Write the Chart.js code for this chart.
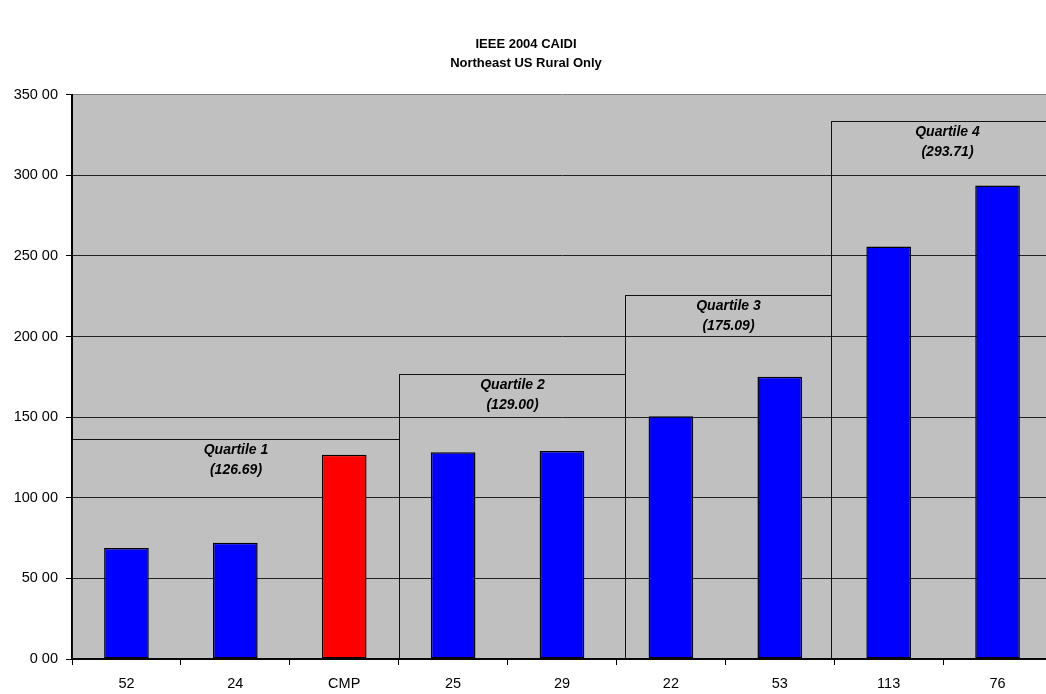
<!DOCTYPE html>
<html>
<head>
<meta charset="utf-8">
<title>IEEE 2004 CAIDI</title>
<script src="https://cdn.jsdelivr.net/npm/chart.js@4.4.1/dist/chart.umd.min.js"></script>
<style>
  html, body { margin: 0; padding: 0; background: #fff; overflow: hidden; }
  #wrap { width: 1052px; height: 694px; }
</style>
</head>
<body>
<div id="wrap"><canvas id="caidiChart" width="1052" height="694"></canvas></div>
<script>
'use strict';

// utilities and their CAIDI minutes
var utilities = ['52', '24', 'CMP', '25', '29', '22', '53', '113', '76'];
var caidi = [68.8, 72.1, 126.69, 128.3, 129.00, 150.6, 175.09, 255.9, 293.71];
var barColors = ['#0000ff', '#0000ff', '#ff0000', '#0000ff', '#0000ff', '#0000ff', '#0000ff', '#0000ff', '#0000ff'];

// quartile groups: name, reported value, box height and span in category units
var quartileNames = ['Quartile 1', 'Quartile 2', 'Quartile 3', 'Quartile 4'];
var quartileValues = [126.69, 129.00, 175.09, 293.71];
var quartileTops = [136.5, 177, 225.8, 333.5];
var quartileFrom = [-0.5, 2.5, 4.58, 6.47];
var quartileTo = [2.5, 4.58, 6.47, 8.6];

var yTicks = [0, 50, 100, 150, 200, 250, 300, 350];

var FONT = "'Liberation Sans', Arial, sans-serif";

var plotBackground = {
  id: 'plotBackground',
  beforeDraw: function(chart) {
    var a = chart.chartArea, ctx = chart.ctx;
    ctx.save();
    ctx.fillStyle = '#c0c0c0';
    ctx.fillRect(a.left, a.top, a.right - a.left, a.bottom - a.top);
    ctx.restore();
  }
};

var quartileBoxes = {
  id: 'quartileBoxes',
  beforeDatasetsDraw: function(chart) {
    var x = chart.scales.x, y = chart.scales.y, ctx = chart.ctx;
    var step = x.getPixelForValue(1) - x.getPixelForValue(0);
    ctx.save();
    for (var i = 0; i < quartileNames.length; i++) {
      var left = Math.round(x.getPixelForValue(0) + quartileFrom[i] * step) + 0.5;
      var right = Math.round(x.getPixelForValue(0) + quartileTo[i] * step) + 0.5;
      var top = Math.round(y.getPixelForValue(quartileTops[i])) + 0.5;
      var bottom = y.getPixelForValue(0);
      ctx.strokeStyle = '#111';
      ctx.lineWidth = 1;
      ctx.strokeRect(left, top, right - left, bottom - top);
      ctx.fillStyle = '#000';
      ctx.font = 'italic bold 14px ' + FONT;
      ctx.textAlign = 'center';
      ctx.textBaseline = 'middle';
      var cx = (left + right) / 2;
      ctx.fillText(quartileNames[i], cx, top + 11);
      ctx.fillText('(' + quartileValues[i].toFixed(2) + ')', cx, top + 31);
    }
    ctx.restore();
  }
};

var ctx = document.getElementById('caidiChart').getContext('2d');
var chart = new Chart(ctx, {
  type: 'bar',
  data: {
    labels: utilities,
    datasets: [{
      label: 'CAIDI',
      data: caidi,
      backgroundColor: barColors,
      borderColor: '#000',
      borderWidth: 1.5,
      borderSkipped: false,
      categoryPercentage: 1,
      barPercentage: 0.41
    }]
  },
  options: {
    responsive: false,
    animation: false,
    devicePixelRatio: 1,
    layout: { padding: 0 },
    plugins: {
      legend: { display: false },
      tooltip: { enabled: false },
      title: {
        display: true,
        text: ['IEEE 2004 CAIDI', 'Northeast US Rural Only'],
        color: '#000',
        font: { family: FONT, size: 13, weight: 'bold', lineHeight: 1.45 },
        padding: { top: 35, bottom: 22 }
      }
    },
    scales: {
      x: {
        afterFit: function(axis) { axis.height = 35; },
        grid: {
          offset: true,
          drawOnChartArea: false,
          drawTicks: true,
          tickLength: 6,
          color: '#000'
        },
        border: { color: '#000', width: 2 },
        ticks: {
          color: '#000',
          font: { family: FONT, size: 14.5 },
          padding: 10,
          maxRotation: 0
        }
      },
      y: {
        min: 0,
        max: 350,
        afterFit: function(axis) { axis.width = 72; },
        afterBuildTicks: function(axis) {
          axis.ticks = yTicks.map(function(v) { return { value: v }; });
        },
        grid: {
          color: function(c) { return c.tick && c.tick.value === 350 ? '#808080' : '#222'; },
          lineWidth: 1,
          tickLength: 6,
          tickColor: '#000'
        },
        border: { color: '#000', width: 2 },
        ticks: {
          color: '#000',
          font: { family: FONT, size: 14.5 },
          padding: 8,
          callback: function(v) { return v.toFixed(2).replace('.', ' '); }
        }
      }
    }
  },
  plugins: [plotBackground, quartileBoxes]
});
</script>
</body>
</html>
